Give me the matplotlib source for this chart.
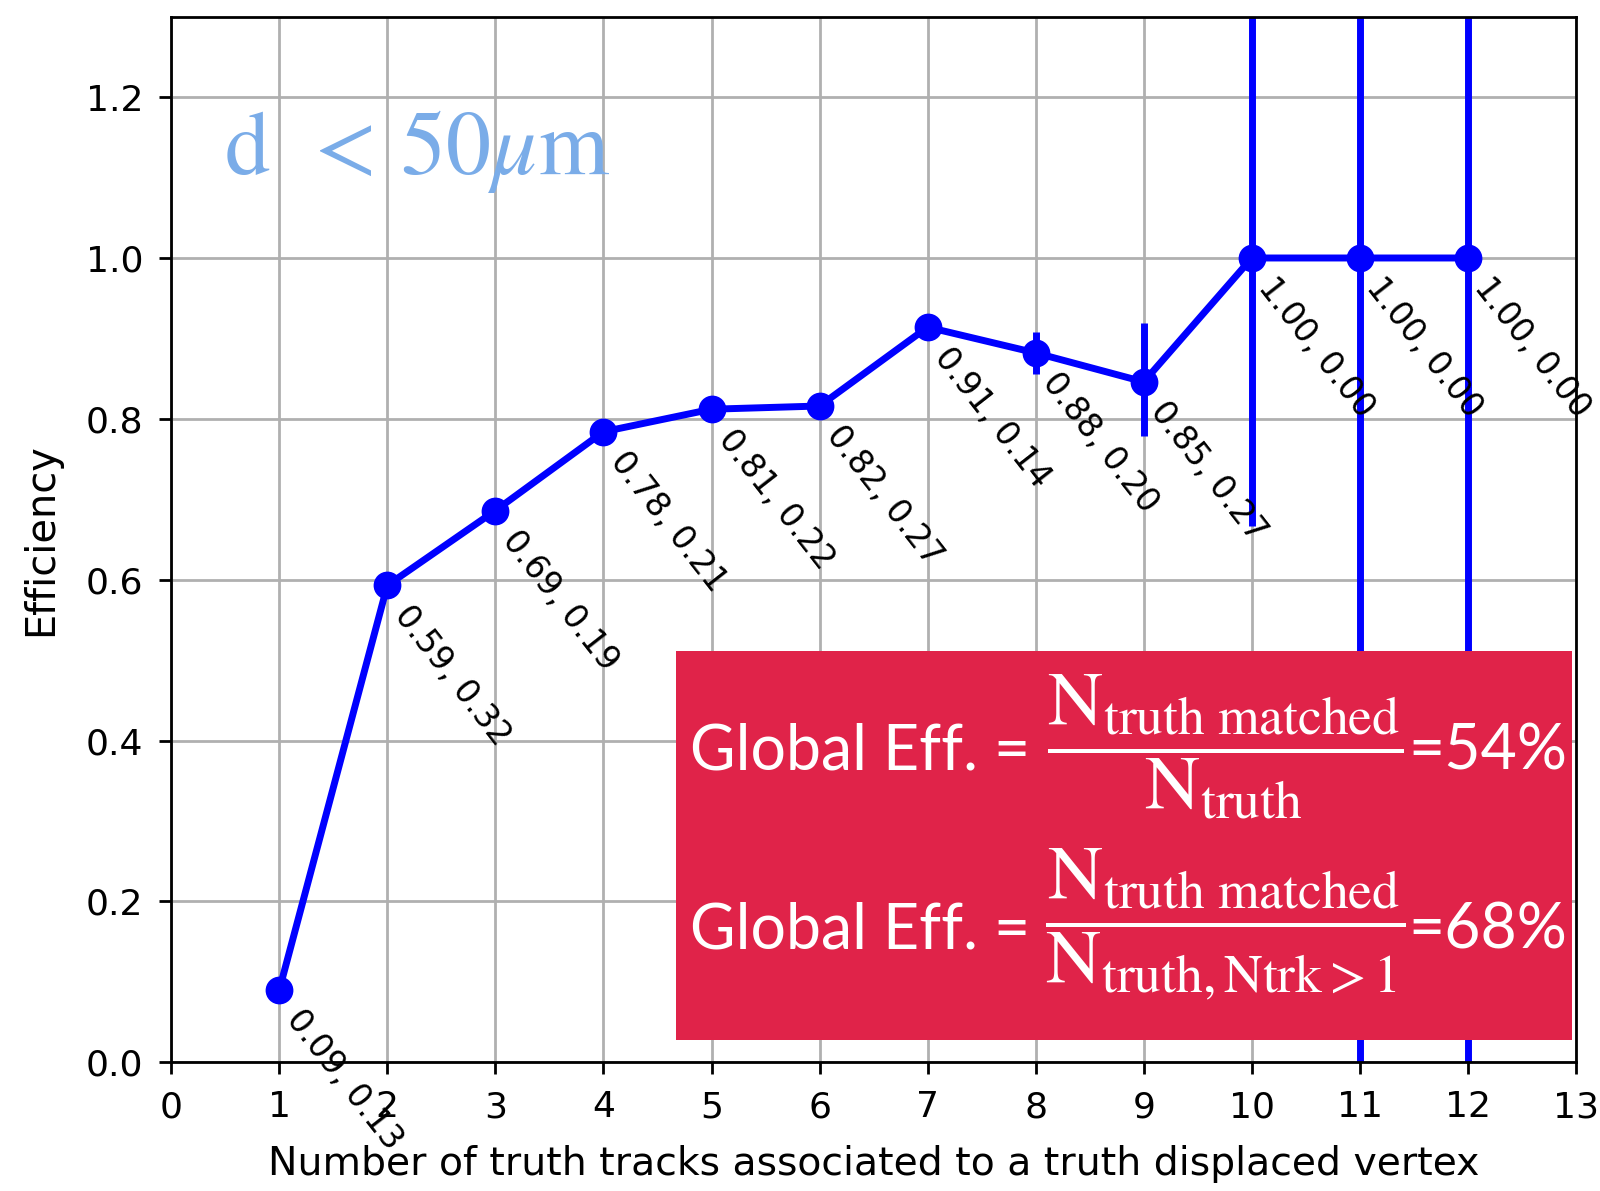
import matplotlib.pyplot as plt
from matplotlib.patches import Rectangle

plt.rcParams['mathtext.fontset'] = 'stix'

# efficiency vs number of truth tracks
n_tracks = [1, 2, 3, 4, 5, 6, 7, 8, 9, 10, 11, 12]
efficiency = [0.09, 0.593, 0.686, 0.784, 0.812, 0.816, 0.914, 0.882, 0.846, 1.0, 1.0, 1.0]
err_low = [0.01, 0.01, 0.01, 0.01, 0.01, 0.01, 0.01, 0.026, 0.067, 0.333, 1.0, 1.0]
err_high = [0.01, 0.01, 0.01, 0.01, 0.01, 0.01, 0.01, 0.026, 0.073, 1.0, 1.0, 1.0]
point_labels = ['0.09, 0.13', '0.59, 0.32', '0.69, 0.19', '0.78, 0.21', '0.81, 0.22',
                '0.82, 0.27', '0.91, 0.14', '0.88, 0.20', '0.85, 0.27',
                '1.00, 0.00', '1.00, 0.00', '1.00, 0.00']
global_eff = ['54%', '68%']

fig, ax = plt.subplots(figsize=(6.4, 4.764), dpi=250)
fig.subplots_adjust(left=0.107, right=0.985, bottom=0.108, top=0.986)

ax.errorbar(n_tracks, efficiency, yerr=[err_low, err_high], fmt='o-', color='blue',
            lw=2, ms=7, elinewidth=2, capsize=0)

for x, y, lab in zip(n_tracks, efficiency, point_labels):
    ax.annotate(lab, (x, y), xytext=(0, -4), textcoords='offset points',
                rotation=-52, ha='left', va='top', fontsize=9.5)

ax.set_xlim(0, 13)
ax.set_ylim(0, 1.3)
ax.set_xticks(range(14))
ax.set_yticks([0.0, 0.2, 0.4, 0.6, 0.8, 1.0, 1.2])
ax.tick_params(labelsize=10.4, pad=4.5)
ax.grid(True)
ax.set_xlabel('Number of truth tracks associated to a truth displaced vertex',
              fontsize=11.35, labelpad=6)
ax.set_ylabel('Efficiency', fontsize=11.5, labelpad=7)

# cut label
fig.text(0.1403, 0.854, r'$\mathrm{d}\ \,<\,50\mu\mathrm{m}$', color='#7AACE8',
         fontsize=26, ha='left', va='baseline')

# global efficiency box
fig.add_artist(Rectangle((0.4222, 0.1268), 0.5606, 0.3266, transform=fig.transFigure,
                         facecolor='#E02349', edgecolor='none', zorder=5))

fracs = [r'$\dfrac{\mathrm{N}_{\mathrm{truth\ matched}}}{\mathrm{N}_{\mathrm{truth}}}$',
         r'$\dfrac{\mathrm{N}_{\mathrm{truth\ matched}}}{\mathrm{N}_{\mathrm{truth,Ntrk}>1}}$']
rows_y = [0.3535, 0.2032]
bars_y = [0.3725, 0.2235]
for fy, by, frac, val in zip(rows_y, bars_y, fracs, global_eff):
    fig.text(0.4315, fy, 'Global Eff. =', family='Lato',
             fontsize=18, color='white', ha='left', va='baseline', zorder=6)
    fig.text(0.766, by, frac, fontsize=22, color='white', ha='center', va='center', zorder=6)
    fig.text(0.8805, fy, '=' + val, family='Lato',
             fontsize=18, color='white', ha='left', va='baseline', zorder=6)

fig.savefig('out.png', dpi=250)
